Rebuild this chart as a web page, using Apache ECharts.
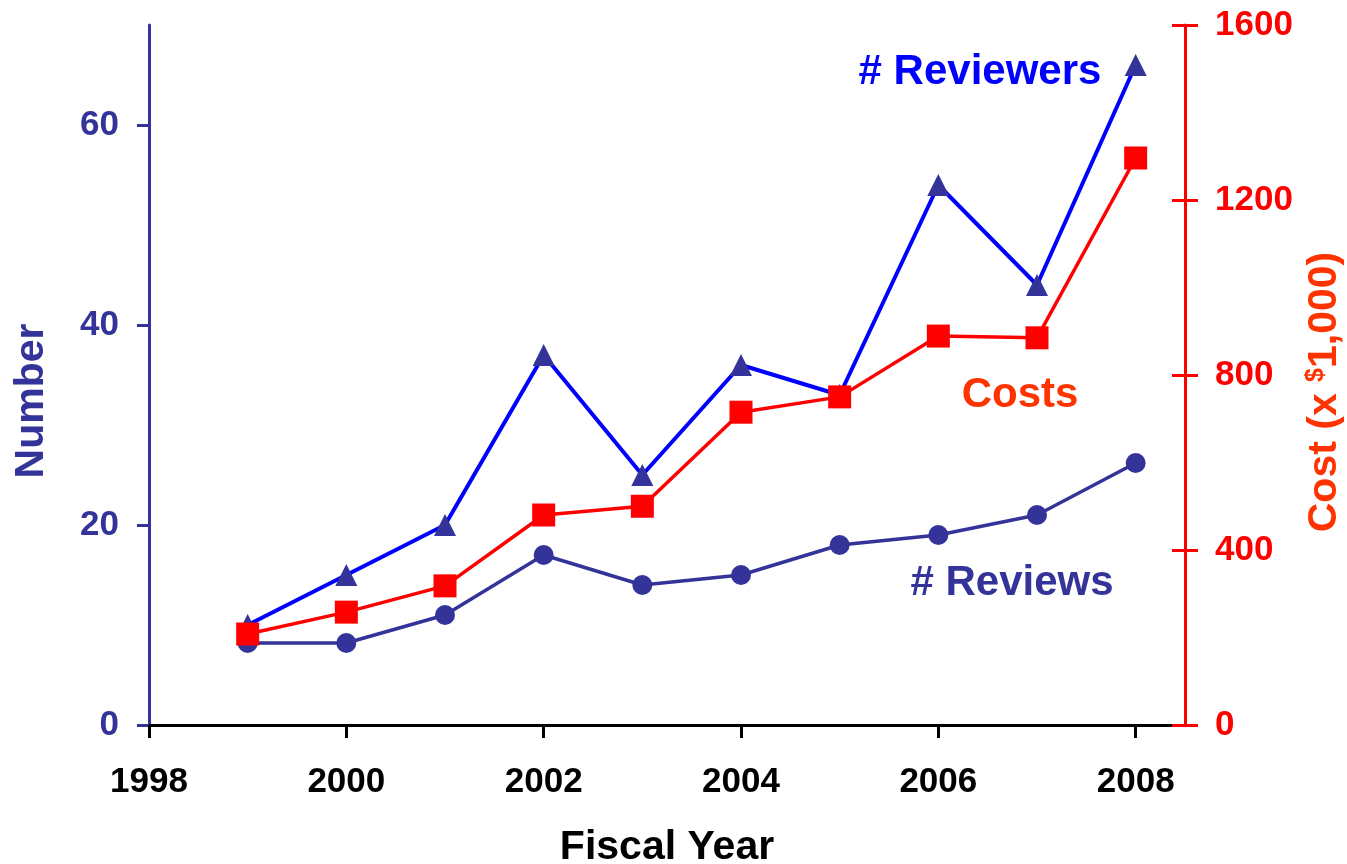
<!DOCTYPE html>
<html>
<head>
<meta charset="utf-8">
<script src="https://cdn.jsdelivr.net/npm/echarts@6/dist/echarts.min.js"></script>
<style>
html,body{margin:0;padding:0;background:#fff;}
#chart{width:1347px;height:864px;}
</style>
</head>
<body>
<div id="chart"></div>
<script>
// ---- data ----
var years = [1999, 2000, 2001, 2002, 2003, 2004, 2005, 2006, 2007, 2008];
var reviewers = [10, 15, 20, 37, 25, 36, 33, 54, 44, 66];
var reviews = [8.2, 8.2, 11, 17, 14, 15, 18, 19, 21, 26.2];
var costs = [208, 258, 318, 480, 500, 715, 750, 889, 885, 1296];
var xTicks = [1998, 2000, 2002, 2004, 2006, 2008];
var leftTicks = [0, 20, 40, 60];
var rightTicks = [0, 400, 800, 1200, 1600];

function pairs(vals) { return years.map(function (y, i) { return [y, vals[i]]; }); }
function plain(v) { return String(v); }

var FONT = 'Liberation Sans, Arial, Helvetica, sans-serif';
var NAVY = '#333399', BLUE = '#0000FF', RED = '#FF0000', ORANGE = '#FF3300';

var chart = echarts.init(document.getElementById('chart'), null, {renderer: 'canvas'});
var option = {
  backgroundColor: '#ffffff',
  animation: false,
  grid: {left: 149, right: 162, top: 25, bottom: 139, containLabel: false, outerBoundsMode: 'none'},
  xAxis: {
    type: 'value', min: 1998, max: 2008.5,
    name: 'Fiscal Year', nameLocation: 'middle', nameGap: 102,
    nameTextStyle: {fontFamily: FONT, fontWeight: 'bold', fontSize: 41, color: '#000'},
    splitLine: {show: false},
    axisLine: {lineStyle: {color: '#000', width: 3}},
    axisTick: {show: true, length: 13, lineStyle: {color: '#000', width: 3}, customValues: xTicks},
    axisLabel: {fontFamily: FONT, fontWeight: 'bold', fontSize: 35, color: '#000', margin: 40, customValues: xTicks, formatter: plain}
  },
  yAxis: [
    {
      type: 'value', min: 0, max: 70, position: 'left',
      name: 'Number', nameLocation: 'middle', nameGap: 97, nameRotate: 90,
      nameTextStyle: {fontFamily: FONT, fontWeight: 'bold', fontSize: 41, color: NAVY, padding: [0, 52, 0, 0]},
      splitLine: {show: false},
      axisLine: {show: true, lineStyle: {color: NAVY, width: 3}},
      axisTick: {show: true, length: 12, lineStyle: {color: NAVY, width: 3}, customValues: leftTicks},
      axisLabel: {fontFamily: FONT, fontWeight: 'bold', fontSize: 35, color: NAVY, margin: 30, customValues: leftTicks, formatter: plain}
    },
    {
      type: 'value', min: 0, max: 1600, interval: 400, position: 'right',
      name: 'Cost (x {sup|$}1,000)', nameLocation: 'middle', nameGap: 104, nameRotate: 90,
      nameTextStyle: {fontFamily: FONT, fontWeight: 'bold', fontSize: 41, color: ORANGE, padding: [0, 34, 0, 0],
        rich: {sup: {fontFamily: FONT, fontWeight: 'bold', fontSize: 25, color: ORANGE, verticalAlign: 'top'}}},
      splitLine: {show: false},
      axisLine: {show: true, lineStyle: {color: RED, width: 3}},
      axisTick: {show: true, length: 13, lineStyle: {color: RED, width: 3}, customValues: rightTicks},
      axisLabel: {fontFamily: FONT, fontWeight: 'bold', fontSize: 35, color: RED, margin: 30, customValues: rightTicks, formatter: plain}
    },
    {
      type: 'value', min: 0, max: 1600, interval: 400, position: 'right',
      splitLine: {show: false},
      axisLine: {show: false},
      axisTick: {show: true, inside: true, length: 13, lineStyle: {color: RED, width: 3}, customValues: rightTicks},
      axisLabel: {show: false}
    }
  ],
  series: [
    {
      name: '# Reviews', type: 'line', yAxisIndex: 0, data: pairs(reviews),
      symbol: 'circle', symbolSize: 20,
      lineStyle: {color: NAVY, width: 3.5}, itemStyle: {color: NAVY}
    },
    {
      name: '# Reviewers', type: 'line', yAxisIndex: 0, data: pairs(reviewers),
      symbol: 'triangle', symbolSize: 22,
      lineStyle: {color: BLUE, width: 4}, itemStyle: {color: NAVY}
    },
    {
      name: 'Costs', type: 'line', yAxisIndex: 1, data: pairs(costs),
      symbol: 'rect', symbolSize: 23,
      lineStyle: {color: RED, width: 3.5}, itemStyle: {color: RED}
    }
  ],
  graphic: [
    {type: 'text', x: 980, y: 72, style: {text: '# Reviewers', fill: BLUE, font: 'bold 42px ' + FONT, textAlign: 'center', textVerticalAlign: 'middle'}},
    {type: 'text', x: 1020, y: 395, style: {text: 'Costs', fill: ORANGE, font: 'bold 42px ' + FONT, textAlign: 'center', textVerticalAlign: 'middle'}},
    {type: 'text', x: 1012, y: 583, style: {text: '# Reviews', fill: NAVY, font: 'bold 42px ' + FONT, textAlign: 'center', textVerticalAlign: 'middle'}}
  ]
};
chart.setOption(option);
</script>
</body>
</html>
